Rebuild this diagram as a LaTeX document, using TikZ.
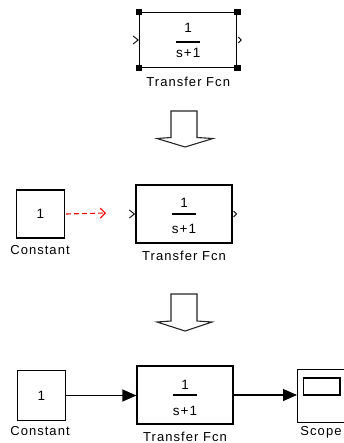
\documentclass[tikz,border=0pt]{standalone}
\usepackage{fontspec}
\setmainfont{Liberation Sans}[LetterSpace=8]
\usetikzlibrary{arrows.meta}
\tikzset{
  blk/.style={draw=black, line width=1.2pt, fill=white, inner sep=0pt},
  tf/.style={blk, minimum width=96pt, minimum height=57pt},
  cst/.style={blk, minimum width=48pt, minimum height=49pt},
  lbl/.style={inner sep=0pt, font=\fontsize{13}{13}\selectfont},
  num/.style={inner sep=0pt, font=\fontsize{13.5}{13.5}\selectfont},
  fracline/.style={line width=1.1pt},
  handle/.style={fill=black, minimum size=6.5pt, inner sep=0pt},
  chev/.style={line width=0.9pt},
  bigarrow/.style={draw=black!85, line width=1.1pt, fill=white, line join=miter},
  sig/.style={line width=1.2pt, -{Triangle[length=14pt,width=12pt]}},
  sigred/.style={red, line width=1.1pt, dashed, dash pattern=on 5pt off 3pt, -{Straight Barb[length=5pt,width=10pt,line width=1.1pt]}}
}
\begin{document}
\begin{tikzpicture}[x=1pt,y=-1pt]
\useasboundingbox (0,0) rectangle (344,443);
\clip (0,0) rectangle (344,443);

% ---------- top: selected transfer fcn ----------
\node[tf, minimum width=97pt, minimum height=55pt] (tfA) at (188.2,40) {};
\node[num] (tfAn) at (188.2,28) {1};
\draw[fracline] ([xshift=-12pt,yshift=-2pt]tfA.center) coordinate (tfAl) -- ([xshift=12pt,yshift=-2pt]tfA.center) coordinate (tfAr);
\node[num] (tfAd) at (188.2,53) {s+1};
\node[lbl] (tfAlab) at (188.2,81.5) {Transfer Fcn};
\foreach \c in {north west,north east,south west,south east}
  \node[handle] at (tfA.\c) {};
\draw[chev] ([xshift=-6pt,yshift=-4pt]tfA.west) -- ([xshift=-1pt]tfA.west) -- ([xshift=-6pt,yshift=4pt]tfA.west);
\draw[chev] ([xshift=1pt,yshift=-3pt]tfA.east) -- ([xshift=4pt]tfA.east) -- ([xshift=1pt,yshift=3pt]tfA.east);

% ---------- big arrow 1 ----------
\draw[bigarrow] (171,111) -- (197,111) -- (197,137.5) -- (213,138.5) -- (185,147) -- (157,138.5) -- (171,137.5) -- cycle;

% ---------- middle ----------
\node[cst, minimum width=48pt, minimum height=48pt] (cB) at (40.5,214) {};
\node[num] at (cB.center) {1};
\node[lbl] (cBlab) at (40,250) {Constant};
\node[tf, minimum width=96pt, minimum height=58pt] (tfB) at (184,214) {};
\node[num] at (184,203) {1};
\draw[fracline] ([xshift=-12pt]tfB.center) -- ([xshift=12pt]tfB.center);
\node[num] at (184,229) {s+1};
\node[lbl] (tfBlab) at (184,256) {Transfer Fcn};
\draw[chev] ([xshift=-6pt,yshift=-4pt]tfB.west) -- ([xshift=-1pt]tfB.west) -- ([xshift=-6pt,yshift=4pt]tfB.west);
\draw[chev] ([xshift=1pt,yshift=-3pt]tfB.east) -- ([xshift=4pt]tfB.east) -- ([xshift=1pt,yshift=3pt]tfB.east);
\coordinate (redend) at (106,213);
\draw[sigred] ([xshift=1pt]cB.east) -- (redend);

% ---------- big arrow 2 ----------
\draw[bigarrow] (171,294) -- (197,294) -- (197,321) -- (212,322) -- (185,331) -- (157,322) -- (171,321) -- cycle;

% ---------- bottom ----------
\node[cst, minimum width=48pt, minimum height=50pt] (cC) at (41.5,395.5) {};
\node[num] at (cC.center) {1};
\node[lbl] (cClab) at (40,431) {Constant};
\node[tf, minimum width=96pt, minimum height=58pt] (tfC) at (185,395) {};
\node[num] at (185,385) {1};
\draw[fracline] ([xshift=-12pt]tfC.center) -- ([xshift=12pt]tfC.center);
\node[num] at (185,410.5) {s+1};
\node[lbl] (tfClab) at (185,436.5) {Transfer Fcn};
\node[blk, anchor=north west, minimum width=60pt, minimum height=53pt] (sc) at (297,368.5) {};
\draw[line width=1.2pt] (303.5,378) rectangle (340,395);
\node[lbl] (sclab) at (321,432) {Scope};
\draw[sig] (cC.east) -- (cC.east -| tfC.west);
\draw[sig] (tfC.east) -- (sc.west |- tfC.east);
\end{tikzpicture}
\end{document}
